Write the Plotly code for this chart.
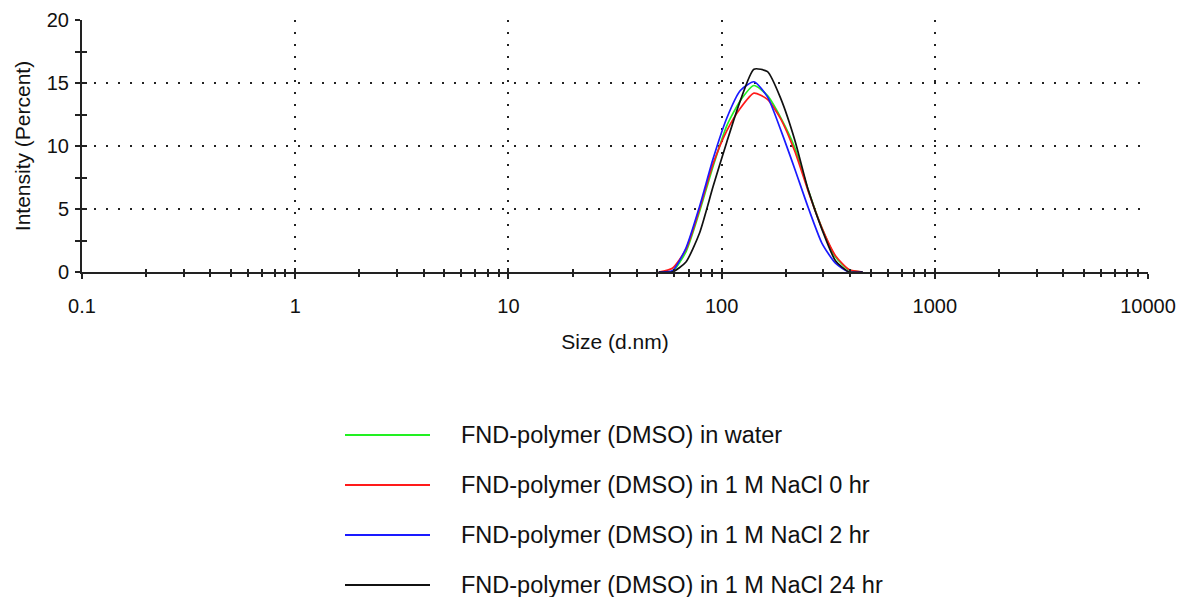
import plotly.graph_objects as go

# ---- data -------------------------------------------------------------
sizes_nm = [50.75, 58.77, 68.06, 78.82, 91.28, 105.7, 122.4, 141.8, 164.2,
            190.1, 220.2, 255.0, 295.3, 342.0, 396.1, 458.7]

water = [0.0, 0.05, 1.6, 4.8, 8.4, 11.6, 13.6, 14.8, 14.0, 12.2, 9.9, 6.5, 3.5, 1.2, 0.15, 0.0]
nacl_0hr = [0.0, 0.3, 1.8, 5.0, 8.6, 11.2, 13.0, 14.2, 13.7, 12.1, 9.6, 6.4, 3.5, 1.3, 0.2, 0.0]
nacl_2hr = [0.0, 0.1, 1.9, 5.2, 9.0, 12.2, 14.4, 15.1, 13.9, 11.2, 8.2, 5.1, 2.3, 0.7, 0.0, 0.0]
nacl_24hr = [0.0, 0.0, 0.8, 3.1, 6.8, 10.3, 13.6, 16.1, 15.9, 13.7, 10.5, 6.5, 3.4, 0.9, 0.0, 0.0]

series_names = [
    "FND-polymer (DMSO) in water",
    "FND-polymer (DMSO) in 1 M NaCl 0 hr",
    "FND-polymer (DMSO) in 1 M NaCl 2 hr",
    "FND-polymer (DMSO) in 1 M NaCl 24 hr",
]
series_values = [water, nacl_0hr, nacl_2hr, nacl_24hr]
series_colors = ["#22f022", "#ff1a1a", "#1a1aff", "#111111"]

x_major = [0.1, 1, 10, 100, 1000, 10000]
x_major_text = ["0.1", "1", "10", "100", "1000", "10000"]
x_minor = [m * d for d in [0.1, 1, 10, 100, 1000] for m in range(2, 10)]
y_major = [0, 5, 10, 15, 20]

# ---- figure -----------------------------------------------------------
FONT = "Liberation Sans, Arial, sans-serif"
AX = "#222222"
fig = go.Figure()

for name, vals, col in zip(series_names, series_values, series_colors):
    fig.add_trace(go.Scatter(x=sizes_nm, y=vals, mode="lines", name=name,
                             line=dict(color=col, width=1.7, shape="spline", smoothing=0.6),
                             showlegend=False, cliponaxis=True))

# empty trace hosting the overlay axes (inner half of the crossing tick marks)
fig.add_trace(go.Scatter(x=[], y=[], xaxis="x2", yaxis="y2", showlegend=False, hoverinfo="skip"))

grid = dict(showgrid=True, gridcolor=AX, gridwidth=2, griddash="2px,10px")

fig.update_layout(
    width=1180, height=597,
    margin=dict(l=82, r=32, t=20, b=325),
    paper_bgcolor="white", plot_bgcolor="white",
    font=dict(family=FONT, size=20, color="#111111"),
    xaxis=dict(type="log", range=[-1, 4], tickmode="array", tickvals=x_major, ticktext=x_major_text,
               ticks="outside", ticklen=5, tickwidth=2, tickcolor=AX,
               minor=dict(tickvals=x_minor, ticks="outside", ticklen=3, tickwidth=2, tickcolor=AX, showgrid=False),
               showline=True, linecolor=AX, linewidth=2, zeroline=False,
               ticklabelstandoff=10, automargin=False,
               tickfont=dict(size=20),
               title=dict(text="Size (d.nm)", font=dict(size=21), standoff=18),
               **grid),
    yaxis=dict(range=[0, 20], tickmode="array", tickvals=y_major,
               ticks="outside", ticklen=5, tickwidth=2, tickcolor=AX,
               minor=dict(dtick=2.5, ticks="outside", ticklen=5, tickwidth=2, tickcolor=AX, showgrid=False),
               showline=True, linecolor=AX, linewidth=2, zeroline=False,
               ticklabelstandoff=2, automargin=False,
               tickfont=dict(size=20),
               title=dict(text="Intensity (Percent)", font=dict(size=21), standoff=10),
               **grid),
    xaxis2=dict(type="log", range=[-1, 4], overlaying="x", anchor="y", side="bottom",
                tickmode="array", tickvals=x_major, ticks="inside", ticklen=4, tickwidth=2, tickcolor=AX,
                minor=dict(tickvals=x_minor, ticks="inside", ticklen=3, tickwidth=2, tickcolor=AX, showgrid=False),
                showticklabels=False, showgrid=False, showline=False, zeroline=False),
    yaxis2=dict(range=[0, 20], overlaying="y", anchor="x", side="left",
                tickmode="array", tickvals=y_major, ticks="inside", ticklen=5, tickwidth=2, tickcolor=AX,
                minor=dict(dtick=2.5, ticks="inside", ticklen=5, tickwidth=2, tickcolor=AX, showgrid=False),
                showticklabels=False, showgrid=False, showline=False, zeroline=False),
)

# ---- manual legend below the plot (positions in screen pixels) --------
plot_l, plot_w, plot_b, plot_h = 82, 1066, 272, 252
def px_x(px):
    return (px - plot_l) / plot_w
def px_y(py):
    return (plot_b - py) / plot_h

row_y = [435, 485, 535, 585]
for name, col, ry in zip(series_names, series_colors, row_y):
    fig.add_shape(type="line", xref="paper", yref="paper",
                  x0=px_x(345), x1=px_x(430), y0=px_y(ry), y1=px_y(ry),
                  line=dict(color=col, width=2))
    fig.add_annotation(xref="paper", yref="paper", x=px_x(459), y=px_y(ry),
                       text=name, showarrow=False, xanchor="left", yanchor="middle",
                       font=dict(family=FONT, size=23.5, color="#111111"))

# remove the browser's default 8px body margin so the figure sits at the page origin
fig.write_html("out.html",
               config={"displayModeBar": False},
               post_script="document.body.style.margin='0';document.body.style.overflow='hidden';")
